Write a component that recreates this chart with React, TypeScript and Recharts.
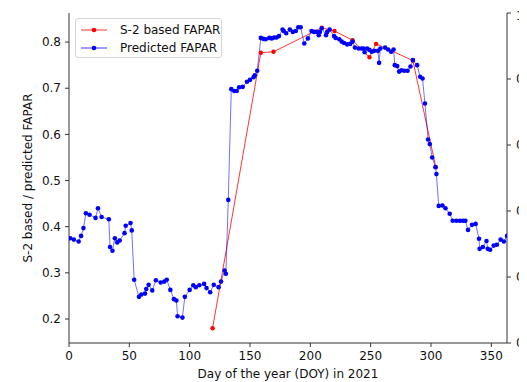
import React from 'react';
import { ComposedChart, Line, XAxis, YAxis } from 'recharts';

// Predicted FAPAR (blue)
const predDays = [
  1, 4, 8, 10, 12, 14, 17, 22, 24, 27, 33, 34, 36, 38, 40, 42, 46, 47, 51, 52,
  54, 58, 60, 63, 64, 66, 69, 72, 76, 79, 81, 84, 87, 89, 90, 94, 96, 100, 103, 105,
  108, 112, 114, 117, 120, 124, 126, 129, 130, 132, 134.5, 137, 139, 141, 144, 147.5, 150, 153, 154, 156,
  159, 161, 163, 166, 168, 170, 172, 174, 177, 178, 180, 183, 185.5, 188, 190, 192, 195, 198, 201, 203,
  205, 207, 208, 209.5, 213, 214, 216, 219.6, 221, 224, 226, 228, 230.6, 233, 235, 237, 240, 242.5, 244, 245,
  247, 249, 251, 253, 256, 257, 258, 262, 264.5, 267, 269, 270, 272, 273.6, 275.6, 278, 280.6, 283, 285, 288.5,
  291, 293, 295, 297.6, 299, 301, 303.7, 304.5, 306.4, 309.5, 312, 315.5, 318, 321, 324, 326.5, 328.5, 330.7, 334, 337,
  339.8, 340.3, 343, 346, 347, 349, 352, 354.6, 357.7, 360.4, 363,
];
const predValues = [
  0.375, 0.372, 0.368, 0.380, 0.397, 0.429, 0.426, 0.419, 0.440, 0.421, 0.416, 0.356, 0.348, 0.375, 0.366, 0.370, 0.386, 0.402, 0.408, 0.392,
  0.285, 0.248, 0.253, 0.255, 0.265, 0.274, 0.262, 0.284, 0.279, 0.281, 0.285, 0.263, 0.243, 0.240, 0.206, 0.203, 0.248, 0.263, 0.273, 0.269,
  0.273, 0.276, 0.267, 0.258, 0.274, 0.269, 0.281, 0.305, 0.298, 0.458, 0.698, 0.694, 0.694, 0.702, 0.703, 0.714, 0.718, 0.724, 0.728, 0.738,
  0.809, 0.807, 0.806, 0.809, 0.808, 0.810, 0.810, 0.813, 0.827, 0.824, 0.819, 0.827, 0.822, 0.824, 0.832, 0.832, 0.797, 0.808, 0.824, 0.822,
  0.822, 0.815, 0.822, 0.830, 0.815, 0.822, 0.827, 0.813, 0.809, 0.806, 0.801, 0.798, 0.795, 0.796, 0.801, 0.788, 0.786, 0.786, 0.786, 0.778,
  0.786, 0.783, 0.779, 0.781, 0.781, 0.755, 0.786, 0.788, 0.784, 0.779, 0.784, 0.750, 0.748, 0.736, 0.739, 0.738, 0.738, 0.747, 0.761, 0.750,
  0.725, 0.721, 0.667, 0.589, 0.579, 0.550, 0.529, 0.514, 0.445, 0.446, 0.440, 0.428, 0.413, 0.413, 0.413, 0.413, 0.413, 0.393, 0.404, 0.406,
  0.374, 0.352, 0.356, 0.369, 0.352, 0.350, 0.359, 0.361, 0.372, 0.368, 0.380,
];

// S-2 based FAPAR (red)
const s2Days = [119, 159, 169.5, 209.5, 220, 235, 249, 254.5, 285, 304];
const s2Values = [0.180, 0.777, 0.779, 0.831, 0.824, 0.804, 0.767, 0.796, 0.760, 0.529];

const xTicks = [0, 50, 100, 150, 200, 250, 300, 350];
const leftTicks = [0.2, 0.3, 0.4, 0.5, 0.6, 0.7, 0.8];
const rightTicks = [0, 0.2, 0.4, 0.6, 0.8, 1.0];

const predData = predDays.map((d, i) => ({ doy: d, pred: predValues[i] }));
const s2Data = s2Days.map((d, i) => ({ doy: d, s2: s2Values[i] }));

const FONT = "'DejaVu Sans', sans-serif";
const AXIS = '#333';
const BLUE = '#0000ff';
const RED = '#ff0000';

function LegendRow({ color, label }: { color: string; label: string }) {
  return (
    <div style={{ display: 'flex', alignItems: 'center', height: 18 }}>
      <svg width={28} height={10} style={{ marginRight: 12 }}>
        <line x1={1} y1={5} x2={27} y2={5} stroke={color} strokeWidth={0.8} />
        <circle cx={14} cy={5} r={2.3} fill={color} />
      </svg>
      <span>{label}</span>
    </div>
  );
}

export default function App() {
  return (
    <div style={{ position: 'relative', width: 519, height: 374, overflow: 'hidden', fontFamily: FONT }}>
      <ComposedChart
        width={560}
        height={374}
        margin={{ top: 5, right: 0, bottom: 0, left: 0 }}
        style={{ fontFamily: FONT }}
      >
        <XAxis
          dataKey="doy"
          type="number"
          domain={[0, 363]}
          ticks={xTicks}
          allowDataOverflow
          height={39}
          tickSize={4}
          tickMargin={4}
          tick={{ fontSize: 12, fill: '#111' }}
          stroke={AXIS}
          label={{ value: 'Day of the year (DOY) in 2021', position: 'insideBottom', offset: 4, fontSize: 12, fill: '#111' }}
        />
        <XAxis
          xAxisId="top"
          orientation="top"
          dataKey="doy"
          type="number"
          domain={[0, 363]}
          allowDataOverflow
          height={0}
          tick={false}
          tickLine={false}
          stroke={AXIS}
        />
        <YAxis
          type="number"
          domain={[0.148, 0.863]}
          ticks={leftTicks}
          allowDataOverflow
          width={61}
          tickSize={4}
          tickMargin={4}
          tickFormatter={(v: number) => v.toFixed(1)}
          tick={{ fontSize: 12, fill: '#111' }}
          stroke={AXIS}
          label={{
            value: 'S-2 based / predicted FAPAR',
            angle: -90,
            position: 'insideLeft',
            offset: 20,
            fontSize: 12,
            fill: '#111',
            style: { textAnchor: 'middle' },
          }}
        />
        <YAxis
          yAxisId="right"
          orientation="right"
          type="number"
          domain={[0, 1]}
          ticks={rightTicks}
          allowDataOverflow
          width={61}
          tickSize={4}
          tickMargin={5}
          tickFormatter={(v: number) => v.toFixed(1)}
          tick={{ fontSize: 12, fill: '#111', textAnchor: 'start' }}
          stroke={AXIS}
        />
        {/* invisible series that carries the top and right frame axes */}
        <Line
          data={s2Data}
          dataKey="s2"
          xAxisId="top"
          yAxisId="right"
          stroke="none"
          dot={false}
          activeDot={false}
          legendType="none"
          isAnimationActive={false}
        />
        <Line
          data={s2Data}
          dataKey="s2"
          type="linear"
          stroke={RED}
          strokeWidth={0.8}
          dot={{ r: 2.2, fill: RED, stroke: RED, strokeWidth: 0 }}
          activeDot={false}
          isAnimationActive={false}
        />
        <Line
          data={predData}
          dataKey="pred"
          type="linear"
          stroke={BLUE}
          strokeWidth={0.7}
          strokeOpacity={0.8}
          dot={{ r: 2.3, fill: BLUE, stroke: BLUE, strokeWidth: 0 }}
          activeDot={false}
          isAnimationActive={false}
        />
      </ComposedChart>
      <div
        style={{
          position: 'absolute',
          left: 67,
          top: 10,
          width: 147,
          height: 40,
          border: '1px solid #d6d6d6',
          borderRadius: 3,
          background: 'rgba(255,255,255,0.8)',
          fontSize: 12,
          color: '#111',
          padding: '2px 0 0 4px',
          boxSizing: 'border-box',
        }}
      >
        <LegendRow color={RED} label="S-2 based FAPAR" />
        <LegendRow color={BLUE} label="Predicted FAPAR" />
      </div>
    </div>
  );
}
